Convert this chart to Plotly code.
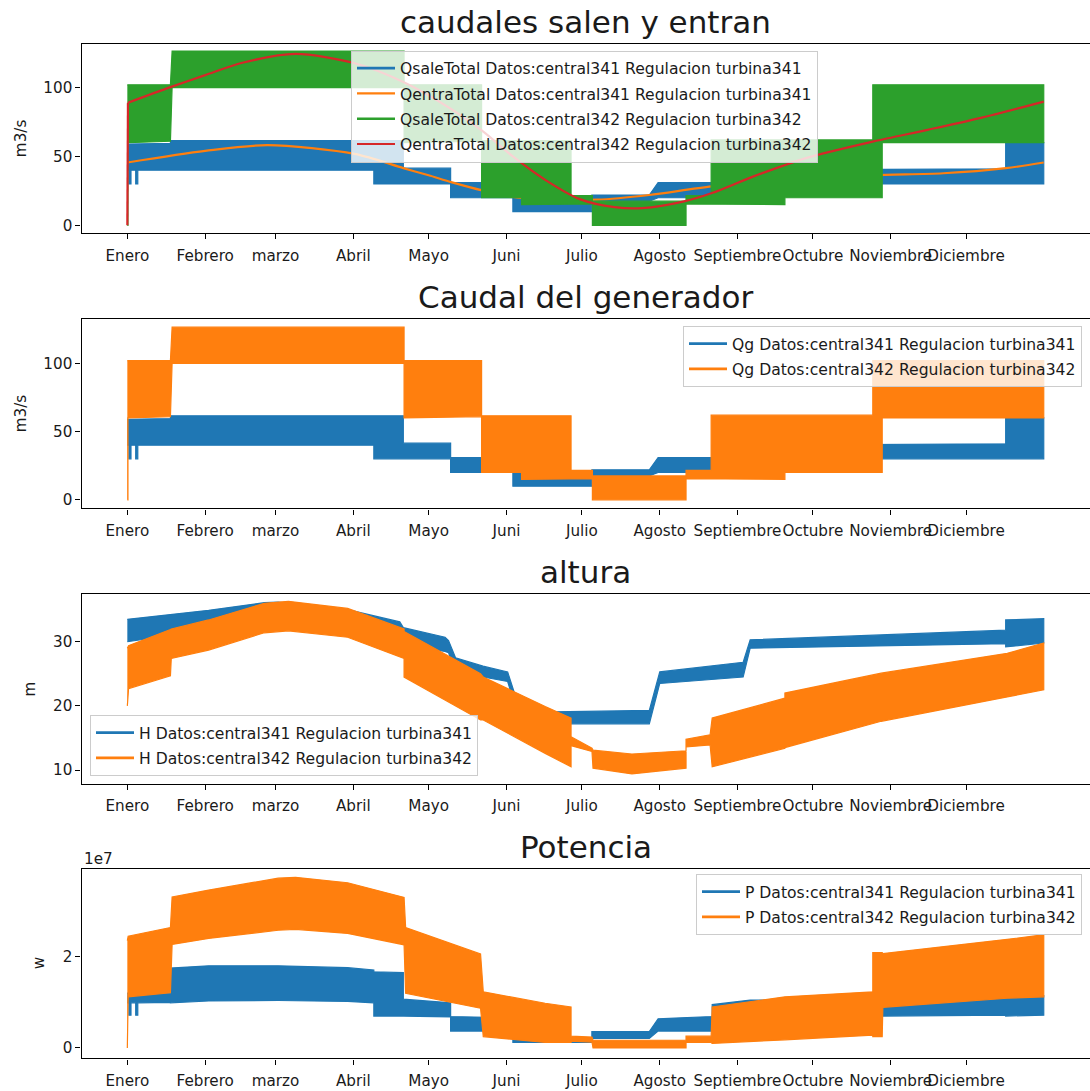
import plotly.graph_objects as go

FIG_W, FIG_H = 1090, 1091

# x axis: hour of the year, ticks at the first hour of each month
month_hours = [0, 744, 1416, 2160, 2880, 3624, 4344, 5088, 5832, 6552, 7296, 8016]
month_names = ["Enero", "Febrero", "marzo", "Abril", "Mayo", "Juni", "Julio",
               "Agosto", "Septiembre", "Octubre", "Noviembre", "Diciembre"]

# ---- flow of central341 (hourly band: daily min / max envelope), m3/s ----
q341_h = [0, 15, 15, 35, 35, 80, 80, 100, 100, 412, 412, 2356, 2356, 2638, 2638,
          3090, 3090, 3685, 3685, 4440, 4440, 4989, 5073, 5590, 5590, 8395, 8395, 8759]
q341_lo = [40, 40, 30, 30, 40, 40, 30, 30, 40, 40, 40, 40, 30, 30, 30,
           30, 20, 20, 10, 10, 17.5, 17.5, 20, 20, 30, 30, 30, 30]
q341_hi = [59, 59, 59, 59, 59, 59, 59, 59, 59, 59.5, 61.5, 61.5, 61.5, 61.5, 41.5,
           41.5, 31, 31, 20, 20, 22, 22, 31, 31, 40, 41, 60, 60]

# ---- flow of central342, m3/s ----
q342_h = [0, 6, 6, 412, 428, 2645, 2645, 3386, 3386, 3768, 3768, 4241, 4241,
          4445, 4445, 5340, 5340, 5580, 5580, 6285, 6285, 7125, 7125, 7215, 7215, 8759]
q342_lo = [0, 0, 60, 61, 100, 100, 60, 61, 20, 20, 15, 15, 15.5,
           15.5, 0, 0, 15.5, 15.5, 15, 15, 20, 20, 20, 20, 60, 60]
q342_hi = [102, 102, 102, 102, 126.5, 126.5, 102, 102, 61.5, 61.5, 61.5, 61.5, 21.5,
           21.5, 17.5, 17.5, 21.5, 21.5, 62, 62, 62, 62, 102, 102, 102, 102]

# ---- total inflow curves, m3/s ----
qin341_h = [0, 744, 1342, 2173, 2638, 2880, 3104, 3402, 3685, 3992, 4491, 4989,
            5588, 6400, 7120, 7800, 8397, 8759]
qin341_v = [45.6, 54.0, 58.2, 51.8, 41.5, 36.3, 31.2, 25.2, 20.6, 19.0, 18.6, 22.0,
            28.2, 33.0, 36.4, 37.8, 41.5, 45.6]

qin342_h = [0, 6, 412, 744, 1100, 1608, 2173, 2638, 3104, 3402, 3685, 3994, 4324,
            4657, 4923, 5322, 5588, 5986, 6485, 7133, 7648, 8147, 8759]
qin342_v = [0, 89, 100.3, 109, 118, 124.4, 117.6, 104, 84, 68, 50, 33, 19,
            13.2, 12.5, 17.4, 23.4, 35.5, 48.8, 60.9, 69.3, 77.8, 89.8]

# ---- head, m ----
h341_h = [0, 412, 777, 1309, 1442, 2106, 2604, 2638, 3037, 3070, 3137, 3400, 3635,
          3760, 4989, 5089, 5886, 5953, 8395, 8395, 8759]
h341_lo = [30.0, 31.0, 31.5, 32.5, 32.6, 31.8, 30.3, 29.5, 28.5, 28.3, 25.5, 24.5, 23.8,
           17.2, 17.2, 23.5, 24.5, 29.0, 29.7, 29.2, 29.8]
h341_hi = [33.5, 34.3, 34.9, 36.1, 36.2, 35.0, 33.1, 32.2, 30.7, 30.2, 27.5, 26.2, 25.3,
           19.0, 19.3, 25.3, 26.8, 30.3, 31.8, 33.4, 33.6]

h342_h = [0, 12, 412, 420, 777, 1309, 1540, 2106, 2645, 2645, 3376, 3402, 3994, 4241,
          4241, 4441, 4451, 4823, 5340, 5340, 5570, 5590, 6285, 6285, 7205, 8410, 8759]
h342_lo = [20.0, 22.7, 24.7, 27.4, 28.7, 31.4, 31.7, 30.7, 27.4, 24.5, 17.8, 17.8, 12.6, 10.5,
           13.8, 12.9, 10.3, 9.4, 10.3, 13.6, 13.9, 10.5, 13.4, 13.5, 17.6, 21.4, 22.5]
h342_hi = [29.0, 29.4, 31.9, 32.0, 33.4, 36.0, 36.3, 35.2, 32.0, 31.6, 25.0, 24.5, 19.9, 18.1,
           15.2, 13.4, 13.1, 12.5, 13.0, 14.8, 15.5, 18.1, 21.2, 22.0, 25.1, 28.2, 29.8]

# ---- power, in units of 1e7 W ----
P_UNIT = 1e7
p341_h = [0, 15, 15, 35, 35, 80, 80, 100, 100, 412, 412, 777, 1442, 2106, 2356, 2356,
          2638, 2638, 3090, 3090, 3685, 3685, 4440, 4440, 4989, 5073, 5590, 5590, 5953,
          7215, 8395, 8395, 8759]
p341_lo = [0.99, 0.99, 0.72, 0.72, 0.99, 0.99, 0.72, 0.72, 0.99, 1.0, 0.99, 1.03, 1.04, 1.02,
           0.99, 0.70, 0.70, 0.70, 0.68, 0.37, 0.37, 0.12, 0.12, 0.21, 0.21, 0.37, 0.37,
           0.62, 0.70, 0.70, 0.72, 0.70, 0.72]
p341_hi = [1.2, 1.2, 1.2, 1.2, 1.2, 1.2, 1.2, 1.2, 1.2, 1.2, 1.75, 1.80, 1.80, 1.76,
           1.71, 1.67, 1.65, 1.07, 0.99, 0.69, 0.66, 0.21, 0.21, 0.36, 0.36, 0.64, 0.69,
           0.95, 1.05, 1.06, 1.10, 1.15, 1.15]

p342_h = [0, 8, 412, 428, 777, 1442, 1608, 2106, 2645, 2660, 3376, 3402, 3994, 4241,
          4241, 4441, 4451, 5340, 5340, 5580, 5590, 6285, 7125, 7125, 7215, 7221, 8410, 8759]
p342_lo = [0, 1.12, 1.21, 2.27, 2.40, 2.58, 2.60, 2.51, 2.26, 1.20, 0.87, 0.25, 0.12, 0.12,
           0.15, 0.13, 0.0, 0.0, 0.12, 0.12, 0.10, 0.18, 0.28, 0.25, 0.25, 0.89, 1.09, 1.12]
p342_hi = [2.35, 2.45, 2.64, 3.31, 3.46, 3.72, 3.74, 3.62, 3.30, 2.64, 2.06, 1.23, 0.98, 0.90,
           0.26, 0.24, 0.17, 0.17, 0.26, 0.26, 0.90, 1.12, 1.23, 2.09, 2.09, 2.07, 2.38, 2.48]

BLUE, ORANGE, GREEN, RED = "#1f77b4", "#ff7f0e", "#2ca02c", "#d62728"
FONT = "DejaVu Sans"
TXT = "#1a1a1a"
TICK_SIZE = 15.2
LEGEND_SIZE = 15.6
TITLE_SIZE = 31

# panel boxes in pixels (top, bottom)
panels = [(44.0, 233.3), (319.1, 508.4), (594.3, 783.5), (869.2, 1058.4)]
X_LEFT_PX = 81.5
x_domain = [X_LEFT_PX / FIG_W, 1.0]
x_range = [-438, 9201]


def ydom(top, bottom):
    return [1 - bottom / FIG_H, 1 - top / FIG_H]


def band(h, lo, hi, color, n, scale=1.0):
    xs = list(h) + list(h)[::-1]
    ys = [v * scale for v in hi] + [v * scale for v in lo][::-1]
    return go.Scatter(x=xs, y=ys, mode="lines", fill="toself", fillcolor=color,
                      line=dict(color=color, width=1.2), hoverinfo="skip",
                      showlegend=False, xaxis=f"x{n}", yaxis=f"y{n}")


def key(name, color, n, group):
    leg = "legend" if n == 1 else f"legend{n}"
    return go.Scatter(x=[None], y=[None], mode="lines", name=name, legendgroup=group,
                      line=dict(color=color, width=2.6), legend=leg,
                      xaxis=f"x{n}", yaxis=f"y{n}")


fig = go.Figure()

# 1) caudales salen y entran
fig.add_trace(band(q341_h, q341_lo, q341_hi, BLUE, 1))
fig.add_trace(key("QsaleTotal Datos:central341 Regulacion turbina341", BLUE, 1, "a1"))
fig.add_trace(go.Scatter(x=qin341_h, y=qin341_v, mode="lines", legendgroup="a2",
                         name="QentraTotal Datos:central341 Regulacion turbina341",
                         line=dict(color=ORANGE, width=2.2, shape="spline", smoothing=0.8),
                         legend="legend", xaxis="x1", yaxis="y1"))
fig.add_trace(band(q342_h, q342_lo, q342_hi, GREEN, 1))
fig.add_trace(key("QsaleTotal Datos:central342 Regulacion turbina342", GREEN, 1, "a3"))
fig.add_trace(go.Scatter(x=qin342_h[:2], y=qin342_v[:2], mode="lines", showlegend=False,
                         legendgroup="a4",
                         line=dict(color=RED, width=2.2), xaxis="x1", yaxis="y1"))
fig.add_trace(go.Scatter(x=qin342_h[1:], y=qin342_v[1:], mode="lines", legendgroup="a4",
                         name="QentraTotal Datos:central342 Regulacion turbina342",
                         line=dict(color=RED, width=2.2, shape="spline", smoothing=0.8),
                         legend="legend", xaxis="x1", yaxis="y1"))

# 2) Caudal del generador
fig.add_trace(band(q341_h, q341_lo, q341_hi, BLUE, 2))
fig.add_trace(band(q342_h, q342_lo, q342_hi, ORANGE, 2))
fig.add_trace(key("Qg Datos:central341 Regulacion turbina341", BLUE, 2, "b1"))
fig.add_trace(key("Qg Datos:central342 Regulacion turbina342", ORANGE, 2, "b2"))

# 3) altura
fig.add_trace(band(h341_h, h341_lo, h341_hi, BLUE, 3))
fig.add_trace(band(h342_h, h342_lo, h342_hi, ORANGE, 3))
fig.add_trace(key("H Datos:central341 Regulacion turbina341", BLUE, 3, "c1"))
fig.add_trace(key("H Datos:central342 Regulacion turbina342", ORANGE, 3, "c2"))

# 4) Potencia
fig.add_trace(band(p341_h, p341_lo, p341_hi, BLUE, 4, P_UNIT))
fig.add_trace(band(p342_h, p342_lo, p342_hi, ORANGE, 4, P_UNIT))
fig.add_trace(key("P Datos:central341 Regulacion turbina341", BLUE, 4, "d1"))
fig.add_trace(key("P Datos:central342 Regulacion turbina342", ORANGE, 4, "d2"))

axis_common = dict(showline=True, linecolor="#000", linewidth=1.2, mirror=True,
                   ticks="outside", ticklen=5, tickwidth=1.2, tickcolor="#000",
                   showgrid=False, zeroline=False, automargin=False,
                   tickfont=dict(family=FONT, size=TICK_SIZE, color=TXT))

y_specs = [
    dict(range=[-5.8, 131.6], tickvals=[0, 50, 100], ticktext=["0", "50", "100"]),
    dict(range=[-6.3, 132.4], tickvals=[0, 50, 100], ticktext=["0", "50", "100"]),
    dict(range=[7.9, 37.4], tickvals=[10, 20, 30], ticktext=["10", "20", "30"]),
    dict(range=[-0.228e7, 3.917e7], tickvals=[0, 2e7], ticktext=["0", "2"]),
]

layout = dict(width=FIG_W, height=FIG_H, margin=dict(l=0, r=0, t=0, b=0),
              paper_bgcolor="white", plot_bgcolor="white",
              font=dict(family=FONT, color=TXT), template="none")

for i, ((top, bottom), ys) in enumerate(zip(panels, y_specs), start=1):
    layout[f"xaxis{i}"] = dict(axis_common, domain=x_domain, range=x_range,
                               tickvals=month_hours, ticktext=month_names,
                               tickangle=0, ticklabelstandoff=3, anchor=f"y{i}")
    layout[f"yaxis{i}"] = dict(axis_common, domain=ydom(top, bottom), anchor=f"x{i}",
                               **ys)

legend_common = dict(bgcolor="rgba(255,255,255,0.8)", bordercolor="#cccccc",
                     borderwidth=1, tracegroupgap=2, itemwidth=38,
                     font=dict(family=FONT, size=LEGEND_SIZE, color=TXT))
layout["legend"] = dict(legend_common, x=351 / FIG_W, y=1 - 50.5 / FIG_H,
                        xanchor="left", yanchor="top")
layout["legend2"] = dict(legend_common, x=1082 / FIG_W, y=1 - 326 / FIG_H,
                         xanchor="right", yanchor="top")
layout["legend3"] = dict(legend_common, x=90 / FIG_W, y=1 - 776 / FIG_H,
                         xanchor="left", yanchor="bottom")
layout["legend4"] = dict(legend_common, x=1082 / FIG_W, y=1 - 874 / FIG_H,
                         xanchor="right", yanchor="top")

fig.update_layout(**layout)

titles = ["caudales salen y entran", "Caudal del generador", "altura", "Potencia"]
y_labels = [("m3/s", 20.5), ("m3/s", 20.5), ("m", 29.5), ("w", 38.5)]
x_mid = (X_LEFT_PX + 1089.6) / 2 / FIG_W
for (top, bottom), t, (yl, ylx) in zip(panels, titles, y_labels):
    fig.add_annotation(text=t, xref="paper", yref="paper", x=x_mid, y=1 - top / FIG_H,
                       xanchor="center", yanchor="bottom", yshift=2, showarrow=False,
                       font=dict(family=FONT, size=TITLE_SIZE, color=TXT))
    fig.add_annotation(text=yl, xref="paper", yref="paper", x=ylx / FIG_W,
                       y=1 - (top + bottom) / 2 / FIG_H, textangle=-90,
                       xanchor="center", yanchor="middle", showarrow=False,
                       font=dict(family=FONT, size=TICK_SIZE, color=TXT))

# exponent label of the power axis
fig.add_annotation(text="1e7", xref="paper", yref="paper", x=X_LEFT_PX / FIG_W,
                   y=1 - panels[3][0] / FIG_H, xanchor="left", yanchor="bottom",
                   yshift=-1, showarrow=False, font=dict(family=FONT, size=TICK_SIZE, color=TXT))

fig.write_html("out.html")
